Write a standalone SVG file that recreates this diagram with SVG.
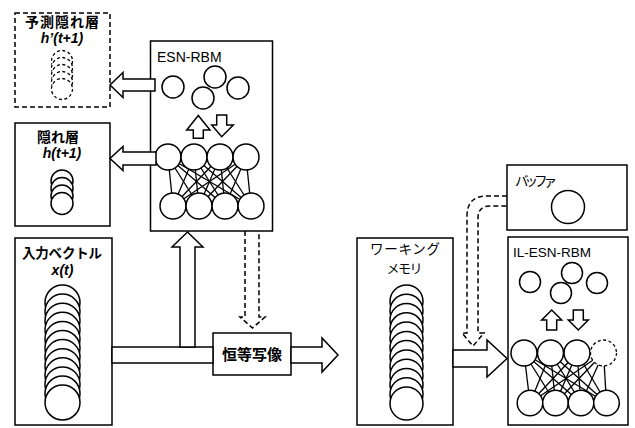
<svg xmlns="http://www.w3.org/2000/svg" width="635" height="428" viewBox="0 0 635 428">
<style>
.box{fill:#fff;stroke:#000;stroke-width:1.5}
.dbox{fill:#fff;stroke:#000;stroke-width:1.5;stroke-dasharray:5,3}
.c{fill:#fff;stroke:#000;stroke-width:1.5}
.dc{fill:#fff;stroke:#000;stroke-width:1.3;stroke-dasharray:3,2.5}
.ln{stroke:#000;stroke-width:1.3}
.arr{fill:#fff;stroke:#000;stroke-width:1.5;stroke-linejoin:miter}
.darr{fill:none;stroke:#000;stroke-width:1.5;stroke-dasharray:5,3}
.jp{font-family:"Noto Sans CJK JP",sans-serif;fill:#000}
.jb{font-family:"Noto Sans CJK JP",sans-serif;font-weight:bold;fill:#000}
.en{font-family:"Liberation Sans",Arial,sans-serif;fill:#000}
.var{font-family:"Liberation Sans",Arial,sans-serif;font-weight:bold;font-style:italic;fill:#000}
</style>

<g id="predicted-hidden">
<rect class="dbox" x="15" y="13" width="95" height="94"/>
<text class="jb" x="62" y="27" font-size="14" text-anchor="middle" textLength="74">予測隠れ層</text>
<text class="var" x="62" y="43" font-size="14" text-anchor="middle">h’(t+1)</text>
<circle class="dc" cx="62" cy="61" r="10.5"/>
<circle class="dc" cx="62" cy="68" r="10.5"/>
<circle class="dc" cx="62" cy="75" r="10.5"/>
<circle class="dc" cx="62" cy="82" r="10.5"/>
<circle class="dc" cx="62" cy="89" r="10.5"/>
</g>

<g id="hidden">
<rect class="box" x="15" y="123" width="95" height="103"/>
<text class="jb" x="58" y="142" font-size="14" text-anchor="middle">隠れ層</text>
<text class="var" x="62" y="158" font-size="14" text-anchor="middle">h(t+1)</text>
<circle class="c" cx="62" cy="181" r="11"/>
<circle class="c" cx="62" cy="188.5" r="11"/>
<circle class="c" cx="62" cy="196" r="11"/>
<circle class="c" cx="62" cy="203.5" r="11"/>
</g>

<g id="input">
<rect class="box" x="15" y="238" width="97" height="187"/>
<text class="jb" x="62" y="258" font-size="13.5" text-anchor="middle" textLength="80">入力ベクトル</text>
<text class="var" x="62.5" y="275" font-size="14" text-anchor="middle">x(t)</text>
<circle class="c" cx="62.5" cy="302.5" r="17.5"/>
<circle class="c" cx="62.5" cy="311.6" r="17.5"/>
<circle class="c" cx="62.5" cy="320.7" r="17.5"/>
<circle class="c" cx="62.5" cy="329.8" r="17.5"/>
<circle class="c" cx="62.5" cy="338.9" r="17.5"/>
<circle class="c" cx="62.5" cy="348" r="17.5"/>
<circle class="c" cx="62.5" cy="357.1" r="17.5"/>
<circle class="c" cx="62.5" cy="366.2" r="17.5"/>
<circle class="c" cx="62.5" cy="375.3" r="17.5"/>
<circle class="c" cx="62.5" cy="384.4" r="17.5"/>
<circle class="c" cx="62.5" cy="393.5" r="17.5"/>
<circle class="c" cx="62.5" cy="402.5" r="17.5"/>
</g>

<g id="esn-rbm">
<rect class="box" x="150.5" y="41" width="122" height="190"/>
<text class="en" x="157" y="62" font-size="14">ESN-RBM</text>
<circle class="c" cx="173" cy="87" r="11"/>
<circle class="c" cx="215" cy="77" r="11"/>
<circle class="c" cx="203" cy="98" r="11"/>
<circle class="c" cx="238" cy="88" r="11"/>
<polygon class="arr" points="193.3,138.3 193.3,130 186.7,130 198.3,115.5 210,130 203.3,130 203.3,138.3"/>
<polygon class="arr" points="216.7,115 226.7,115 226.7,125 233.3,125 221.7,136.7 211.7,125 216.7,125"/>
<g class="ln">
<line x1="168" y1="157" x2="173" y2="206"/><line x1="168" y1="157" x2="199" y2="206"/><line x1="168" y1="157" x2="225" y2="206"/><line x1="168" y1="157" x2="251" y2="206"/>
<line x1="194" y1="157" x2="173" y2="206"/><line x1="194" y1="157" x2="199" y2="206"/><line x1="194" y1="157" x2="225" y2="206"/><line x1="194" y1="157" x2="251" y2="206"/>
<line x1="220" y1="157" x2="173" y2="206"/><line x1="220" y1="157" x2="199" y2="206"/><line x1="220" y1="157" x2="225" y2="206"/><line x1="220" y1="157" x2="251" y2="206"/>
<line x1="246" y1="157" x2="173" y2="206"/><line x1="246" y1="157" x2="199" y2="206"/><line x1="246" y1="157" x2="225" y2="206"/><line x1="246" y1="157" x2="251" y2="206"/>
</g>
<circle class="c" cx="168" cy="157" r="13"/>
<circle class="c" cx="194" cy="157" r="13"/>
<circle class="c" cx="220" cy="157" r="13"/>
<circle class="c" cx="246" cy="157" r="13"/>
<circle class="c" cx="173" cy="206" r="13"/>
<circle class="c" cx="199" cy="206" r="13"/>
<circle class="c" cx="225" cy="206" r="13"/>
<circle class="c" cx="251" cy="206" r="13"/>
</g>

<g id="identity">
<rect class="box" x="213" y="333" width="78" height="42"/>
<text class="jb" x="252" y="360" font-size="15" text-anchor="middle" textLength="60">恒等写像</text>
</g>

<g id="working-memory">
<rect class="box" x="357" y="238" width="96" height="187"/>
<text class="jp" x="405" y="254" font-size="13.5" text-anchor="middle" textLength="70">ワーキング</text>
<text class="jp" x="404.5" y="273" font-size="13" text-anchor="middle" textLength="36">メモリ</text>
<circle class="c" cx="406.5" cy="301.5" r="16.5"/>
<circle class="c" cx="406.5" cy="310.8" r="16.5"/>
<circle class="c" cx="406.5" cy="320" r="16.5"/>
<circle class="c" cx="406.5" cy="329.3" r="16.5"/>
<circle class="c" cx="406.5" cy="338.6" r="16.5"/>
<circle class="c" cx="406.5" cy="347.9" r="16.5"/>
<circle class="c" cx="406.5" cy="357.1" r="16.5"/>
<circle class="c" cx="406.5" cy="366.4" r="16.5"/>
<circle class="c" cx="406.5" cy="375.7" r="16.5"/>
<circle class="c" cx="406.5" cy="385" r="16.5"/>
<circle class="c" cx="406.5" cy="394.2" r="16.5"/>
<circle class="c" cx="406.5" cy="403.5" r="16.5"/>
</g>

<g id="buffer">
<rect class="box" x="507" y="165" width="120" height="65"/>
<text class="jp" x="515" y="186" font-size="13.5" textLength="42">バッファ</text>
<circle class="c" cx="568" cy="207" r="16.5"/>
</g>

<g id="il-esn-rbm">
<rect class="box" x="508" y="237" width="120" height="188"/>
<text class="en" x="513" y="257" font-size="13.5">IL-ESN-RBM</text>
<circle class="c" cx="530" cy="282" r="10.5"/>
<circle class="c" cx="572" cy="273" r="10.5"/>
<circle class="c" cx="561" cy="293" r="10.5"/>
<circle class="c" cx="597" cy="283" r="10.5"/>
<polygon class="arr" points="546.7,330 546.7,320 541.7,320 551.7,310 561.7,320 556.7,320 556.7,330"/>
<polygon class="arr" points="573.3,310 583.3,310 583.3,320 588.3,320 578.3,330 568.3,320 573.3,320"/>
<g class="ln">
<line x1="524" y1="353" x2="530" y2="403"/><line x1="524" y1="353" x2="555.5" y2="403"/><line x1="524" y1="353" x2="581" y2="403"/><line x1="524" y1="353" x2="606.5" y2="403"/>
<line x1="550.5" y1="353" x2="530" y2="403"/><line x1="550.5" y1="353" x2="555.5" y2="403"/><line x1="550.5" y1="353" x2="581" y2="403"/><line x1="550.5" y1="353" x2="606.5" y2="403"/>
<line x1="577" y1="353" x2="530" y2="403"/><line x1="577" y1="353" x2="555.5" y2="403"/><line x1="577" y1="353" x2="581" y2="403"/><line x1="577" y1="353" x2="606.5" y2="403"/>
<line x1="603.5" y1="353" x2="530" y2="403"/><line x1="603.5" y1="353" x2="555.5" y2="403"/><line x1="603.5" y1="353" x2="581" y2="403"/><line x1="603.5" y1="353" x2="606.5" y2="403"/>
</g>
<circle class="c" cx="524" cy="353" r="13"/>
<circle class="c" cx="550.5" cy="353" r="13"/>
<circle class="c" cx="577" cy="353" r="13"/>
<circle class="dc" cx="603.5" cy="353" r="13"/>
<circle class="c" cx="530" cy="403" r="12.8"/>
<circle class="c" cx="555.5" cy="403" r="12.8"/>
<circle class="c" cx="581" cy="403" r="12.8"/>
<circle class="c" cx="606.5" cy="403" r="12.8"/>
</g>

<g id="connectors">
<polygon class="arr" points="155,79 123,79 123,72.5 110,85 123,97.5 123,91 155,91"/>
<polygon class="arr" points="156,152 123,152 123,146.5 110,158.5 123,170.5 123,165 156,165"/>
<rect class="arr" x="112" y="347" width="101" height="16"/>
<polygon class="arr" points="180,347 180,247 172,247 187.5,232 203,247 195,247 195,347"/>
<path class="darr" d="M245,231 V317 H240 L252.5,328 L265,317 H259 V231"/>
<polygon class="arr" points="291,347 322,347 322,338 338,355 322,372 322,363 291,363"/>
<path class="darr" d="M507,196 H487 Q467,196 467,216 V333 H462 L473,346 L484,333 H478 V218 Q478,206 490,206 H507"/>
<polygon class="arr" points="453,350 487,350 487,340 507,358.5 487,377 487,367 453,367"/>
</g>
</svg>
